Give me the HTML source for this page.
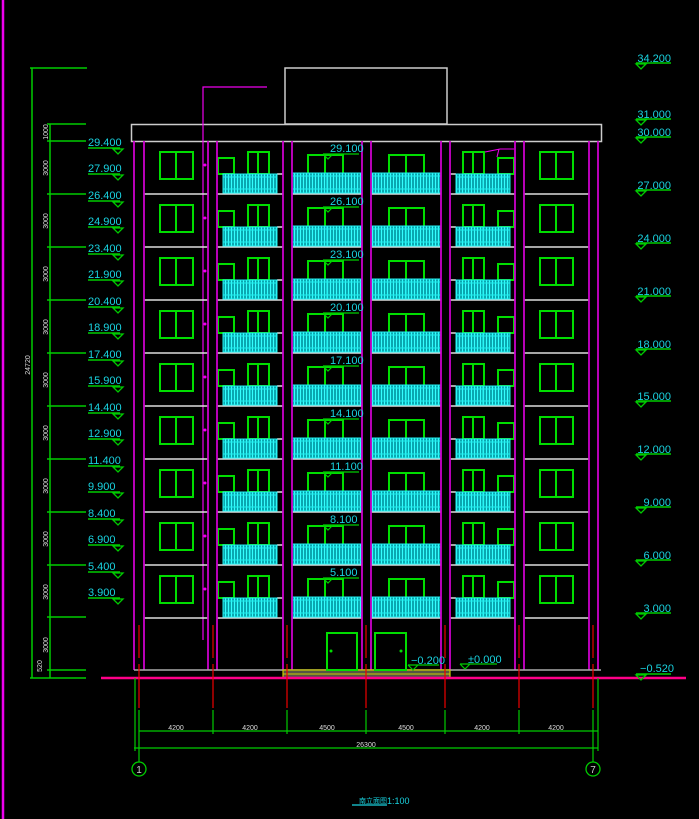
<!DOCTYPE html>
<html><head><meta charset="utf-8"><style>
html,body{margin:0;padding:0;background:#000;}
svg{display:block}
text{font-family:"Liberation Sans","Noto Sans CJK SC",sans-serif;}
.c{fill:#19d3e0;font-size:11px}
.w{fill:#ddd;font-size:7px}
</style></head><body>
<svg width="699" height="819" viewBox="0 0 699 819" xmlns="http://www.w3.org/2000/svg">
<defs>
<pattern id="rl" width="3" height="20" patternUnits="userSpaceOnUse">
<rect width="3" height="20" fill="#0aa7b0"/><rect x="0" width="1" height="20" fill="#3ff"/>
</pattern>
<g id="fl">
<g stroke="#ddd" stroke-width="1.5">
<line x1="144" y1="53" x2="208" y2="53"/><line x1="217" y1="53" x2="283" y2="53"/>
<line x1="292" y1="53" x2="362" y2="53"/><line x1="371" y1="53" x2="441" y2="53"/>
<line x1="450" y1="53" x2="515" y2="53"/><line x1="524" y1="53" x2="589" y2="53"/>
<line x1="217" y1="33" x2="223" y2="33"/><line x1="277" y1="33" x2="283" y2="33"/>
<line x1="450" y1="33" x2="456" y2="33"/><line x1="509" y1="33" x2="515" y2="33"/>
</g>
<g fill="none" stroke="#0d0" stroke-width="2">
<rect x="160" y="11" width="33" height="27"/><line x1="176" y1="11" x2="176" y2="38"/>
<rect x="540" y="11" width="33" height="27"/><line x1="556" y1="11" x2="556" y2="38"/>
<rect x="218" y="17" width="16" height="16"/>
<rect x="248" y="11" width="21" height="22"/><line x1="258" y1="11" x2="258" y2="33"/>
<rect x="463" y="11" width="21" height="22"/><line x1="473" y1="11" x2="473" y2="33"/>
<rect x="498" y="17" width="16" height="16"/>
<rect x="308" y="14" width="35" height="19"/><line x1="325" y1="14" x2="325" y2="33"/>
<rect x="389" y="14" width="35" height="19"/><line x1="406" y1="14" x2="406" y2="33"/>
</g>
<g stroke="#2ee" stroke-width="1">
<rect x="223" y="33" width="54" height="19" fill="url(#rl)"/>
<rect x="292" y="32" width="70" height="20" fill="url(#rl)"/>
<rect x="371" y="32" width="70" height="20" fill="url(#rl)"/>
<rect x="456" y="33" width="54" height="19" fill="url(#rl)"/>
<line x1="223" y1="36" x2="277" y2="36"/><line x1="292" y1="35" x2="362" y2="35"/>
<line x1="371" y1="35" x2="441" y2="35"/><line x1="456" y1="36" x2="510" y2="36"/>
<line x1="223" y1="48" x2="277" y2="48"/><line x1="292" y1="48" x2="362" y2="48"/>
<line x1="371" y1="48" x2="441" y2="48"/><line x1="456" y1="48" x2="510" y2="48"/>
<line x1="250" y1="33" x2="250" y2="52"/><line x1="327" y1="32" x2="327" y2="52"/>
<line x1="406" y1="32" x2="406" y2="52"/><line x1="483" y1="33" x2="483" y2="52"/>
</g>
<circle cx="205" cy="24" r="1.5" fill="#e0e"/>
</g>
<g id="lt"><line x1="0" y1="0" x2="32" y2="0" stroke="#0c0" stroke-width="1.5"/><path d="M25 1 L35 1 L30 6 Z" fill="none" stroke="#0c0" stroke-width="1.3"/></g>
<g id="rt"><line x1="0" y1="0" x2="35" y2="0" stroke="#0c0" stroke-width="1.5"/><path d="M0 1 L10 1 L5 6 Z" fill="none" stroke="#0c0" stroke-width="1.3"/></g>
</defs>

<line x1="3" y1="0" x2="3" y2="819" stroke="#e0e" stroke-width="2.5"/>

<rect x="285" y="68" width="162" height="56" fill="none" stroke="#ccc" stroke-width="1.5"/>
<rect x="131.5" y="124.5" width="470" height="17" fill="none" stroke="#ccc" stroke-width="1.5"/>
<polyline points="203,640 203,87 267,87" fill="none" stroke="#e0e" stroke-width="1.2"/>
<polyline points="485,152 500,149 514,149" fill="none" stroke="#e0e" stroke-width="1"/>
<line x1="499" y1="149" x2="497" y2="157" stroke="#e0e" stroke-width="1"/>

<use href="#fl" y="141"/><use href="#fl" y="194"/><use href="#fl" y="247"/>
<use href="#fl" y="300"/><use href="#fl" y="353"/><use href="#fl" y="406"/>
<use href="#fl" y="459"/><use href="#fl" y="512"/><use href="#fl" y="565"/>

<g stroke="#c0c" stroke-width="1.8">
<line x1="134" y1="141" x2="134" y2="670"/><line x1="144" y1="141" x2="144" y2="670"/>
<line x1="208" y1="141" x2="208" y2="670"/><line x1="217" y1="141" x2="217" y2="670"/>
<line x1="283" y1="141" x2="283" y2="670"/><line x1="292" y1="141" x2="292" y2="670"/>
<line x1="362" y1="141" x2="362" y2="670"/><line x1="371" y1="141" x2="371" y2="670"/>
<line x1="441" y1="141" x2="441" y2="670"/><line x1="450" y1="141" x2="450" y2="670"/>
<line x1="515" y1="141" x2="515" y2="670"/><line x1="524" y1="141" x2="524" y2="670"/>
<line x1="589" y1="141" x2="589" y2="670"/><line x1="598" y1="141" x2="598" y2="670"/>
</g>

<line x1="134" y1="670" x2="601" y2="670" stroke="#aaa" stroke-width="1.5"/>
<rect x="283" y="670" width="167" height="8" fill="#554" stroke="#cc0" stroke-width="1.2"/>
<line x1="283" y1="674" x2="450" y2="674" stroke="#cc0"/>
<g fill="none" stroke="#0d0" stroke-width="2">
<rect x="327" y="633" width="30" height="37"/><rect x="375" y="633" width="31" height="37"/>
</g>
<circle cx="331" cy="651" r="1.5" fill="#0d0"/><circle cx="401" cy="651" r="1.5" fill="#0d0"/>
<line x1="101" y1="678" x2="686" y2="678" stroke="#f08" stroke-width="2.5"/>

<g stroke="#e00" stroke-width="1.2">
<line x1="139" y1="625" x2="139" y2="658"/><line x1="139" y1="664" x2="139" y2="708"/>
<line x1="213" y1="625" x2="213" y2="658"/><line x1="213" y1="664" x2="213" y2="708"/>
<line x1="287" y1="625" x2="287" y2="658"/><line x1="287" y1="664" x2="287" y2="708"/>
<line x1="366" y1="625" x2="366" y2="658"/><line x1="366" y1="664" x2="366" y2="708"/>
<line x1="445" y1="625" x2="445" y2="658"/><line x1="445" y1="664" x2="445" y2="708"/>
<line x1="519" y1="625" x2="519" y2="658"/><line x1="519" y1="664" x2="519" y2="708"/>
<line x1="593" y1="625" x2="593" y2="658"/><line x1="593" y1="664" x2="593" y2="708"/>
</g>

<g stroke="#0c0" stroke-width="1.2">
<line x1="139" y1="710" x2="139" y2="762"/><line x1="213" y1="710" x2="213" y2="734"/>
<line x1="287" y1="710" x2="287" y2="734"/><line x1="366" y1="710" x2="366" y2="734"/>
<line x1="445" y1="710" x2="445" y2="734"/><line x1="519" y1="710" x2="519" y2="734"/>
<line x1="593" y1="710" x2="593" y2="762"/>
<line x1="139" y1="731" x2="598" y2="731"/>
<line x1="134" y1="748" x2="598" y2="748"/>
<line x1="135" y1="678" x2="135" y2="751"/><line x1="598" y1="678" x2="598" y2="751"/>
</g>
<g class="w" text-anchor="middle">
<text x="176" y="730">4200</text><text x="250" y="730">4200</text><text x="327" y="730">4500</text>
<text x="406" y="730">4500</text><text x="482" y="730">4200</text><text x="556" y="730">4200</text>
<text x="366" y="747">26300</text>
</g>
<circle cx="139" cy="769" r="7" fill="none" stroke="#0c0" stroke-width="1.3"/>
<circle cx="593" cy="769" r="7" fill="none" stroke="#0c0" stroke-width="1.3"/>
<text x="139" y="773" fill="#ccc" font-size="10" text-anchor="middle">1</text>
<text x="593" y="773" fill="#ccc" font-size="10" text-anchor="middle">7</text>
<text x="359" y="803" fill="#19d3e0" font-size="7">南立面图</text>
<text x="387" y="804" fill="#19d3e0" font-size="9">1:100</text>
<line x1="352" y1="805" x2="387" y2="805" stroke="#19d3e0" stroke-width="1.3"/>

<g stroke="#0c0" stroke-width="1.5">
<line x1="32" y1="68" x2="32" y2="678"/><line x1="30" y1="68" x2="87" y2="68"/>
<line x1="50" y1="124" x2="50" y2="678"/><line x1="47" y1="124" x2="86" y2="124"/>
<line x1="47" y1="141" x2="86" y2="141"/><line x1="47" y1="194" x2="86" y2="194"/>
<line x1="47" y1="247" x2="86" y2="247"/><line x1="47" y1="300" x2="86" y2="300"/>
<line x1="47" y1="353" x2="86" y2="353"/><line x1="47" y1="406" x2="86" y2="406"/>
<line x1="47" y1="459" x2="86" y2="459"/><line x1="47" y1="512" x2="86" y2="512"/>
<line x1="47" y1="565" x2="86" y2="565"/><line x1="47" y1="617" x2="86" y2="617"/>
<line x1="47" y1="670" x2="86" y2="670"/><line x1="30" y1="678" x2="86" y2="678"/>
</g>
<g class="w" text-anchor="middle">
<text transform="translate(48,132) rotate(-90)">1000</text>
<text transform="translate(48,168) rotate(-90)">3000</text>
<text transform="translate(48,221) rotate(-90)">3000</text>
<text transform="translate(48,274) rotate(-90)">3000</text>
<text transform="translate(48,327) rotate(-90)">3000</text>
<text transform="translate(48,380) rotate(-90)">3000</text>
<text transform="translate(48,433) rotate(-90)">3000</text>
<text transform="translate(48,486) rotate(-90)">3000</text>
<text transform="translate(48,539) rotate(-90)">3000</text>
<text transform="translate(48,592) rotate(-90)">3000</text>
<text transform="translate(48,645) rotate(-90)">3000</text>
<text transform="translate(42,666) rotate(-90)">520</text>
<text transform="translate(30,365) rotate(-90)">24720</text>
</g>
<g class="c">
<text x="88" y="146">29.400</text><text x="88" y="172">27.900</text>
<text x="88" y="199">26.400</text><text x="88" y="225">24.900</text>
<text x="88" y="252">23.400</text><text x="88" y="278">21.900</text>
<text x="88" y="305">20.400</text><text x="88" y="331">18.900</text>
<text x="88" y="358">17.400</text><text x="88" y="384">15.900</text>
<text x="88" y="411">14.400</text><text x="88" y="437">12.900</text>
<text x="88" y="464">11.400</text><text x="88" y="490">9.900</text>
<text x="88" y="517">8.400</text><text x="88" y="543">6.900</text>
<text x="88" y="570">5.400</text><text x="88" y="596">3.900</text>
</g>
<use href="#lt" x="88" y="148"/><use href="#lt" x="88" y="174"/><use href="#lt" x="88" y="201"/>
<use href="#lt" x="88" y="227"/><use href="#lt" x="88" y="254"/><use href="#lt" x="88" y="280"/>
<use href="#lt" x="88" y="307"/><use href="#lt" x="88" y="333"/><use href="#lt" x="88" y="360"/>
<use href="#lt" x="88" y="386"/><use href="#lt" x="88" y="413"/><use href="#lt" x="88" y="439"/>
<use href="#lt" x="88" y="466"/><use href="#lt" x="88" y="492"/><use href="#lt" x="88" y="519"/>
<use href="#lt" x="88" y="545"/><use href="#lt" x="88" y="572"/><use href="#lt" x="88" y="598"/>

<g class="c" font-size="10">
<text x="330" y="152">29.100</text><text x="330" y="205">26.100</text><text x="330" y="258">23.100</text>
<text x="330" y="311">20.100</text><text x="330" y="364">17.100</text><text x="330" y="417">14.100</text>
<text x="330" y="470">11.100</text><text x="330" y="523">8.100</text><text x="330" y="576">5.100</text>
<text x="411" y="664">−0.200</text><text x="468" y="663">±0.000</text>
</g>
<g fill="none" stroke="#0c0" stroke-width="1.2">
<path d="M323 154 H359 M323 154 L328 159 L333 154"/>
<path d="M323 207 H359 M323 207 L328 212 L333 207"/>
<path d="M323 260 H359 M323 260 L328 265 L333 260"/>
<path d="M323 313 H359 M323 313 L328 318 L333 313"/>
<path d="M323 366 H359 M323 366 L328 371 L333 366"/>
<path d="M323 419 H359 M323 419 L328 424 L333 419"/>
<path d="M323 472 H359 M323 472 L328 477 L333 472"/>
<path d="M323 525 H359 M323 525 L328 530 L333 525"/>
<path d="M323 578 H359 M323 578 L328 583 L333 578"/>
<path d="M408 665 H439 M408 665 L413 670 L418 665"/>
<path d="M460 664 H497 M460 664 L465 669 L470 664"/>
</g>

<g class="c" text-anchor="end" font-size="10">
<text x="671" y="62">34.200</text><text x="671" y="118">31.000</text><text x="671" y="136">30.000</text>
<text x="671" y="189">27.000</text><text x="671" y="242">24.000</text><text x="671" y="295">21.000</text>
<text x="671" y="348">18.000</text><text x="671" y="400">15.000</text><text x="671" y="453">12.000</text>
<text x="671" y="506">9.000</text><text x="671" y="559">6.000</text><text x="671" y="612">3.000</text>
<text x="674" y="672">−0.520</text>
</g>
<use href="#rt" x="636" y="63"/><use href="#rt" x="636" y="119"/><use href="#rt" x="636" y="137"/>
<use href="#rt" x="636" y="190"/><use href="#rt" x="636" y="243"/><use href="#rt" x="636" y="296"/>
<use href="#rt" x="636" y="349"/><use href="#rt" x="636" y="401"/><use href="#rt" x="636" y="454"/>
<use href="#rt" x="636" y="507"/><use href="#rt" x="636" y="560"/><use href="#rt" x="636" y="613"/>
<use href="#rt" x="636" y="674"/>
</svg>
</body></html>
